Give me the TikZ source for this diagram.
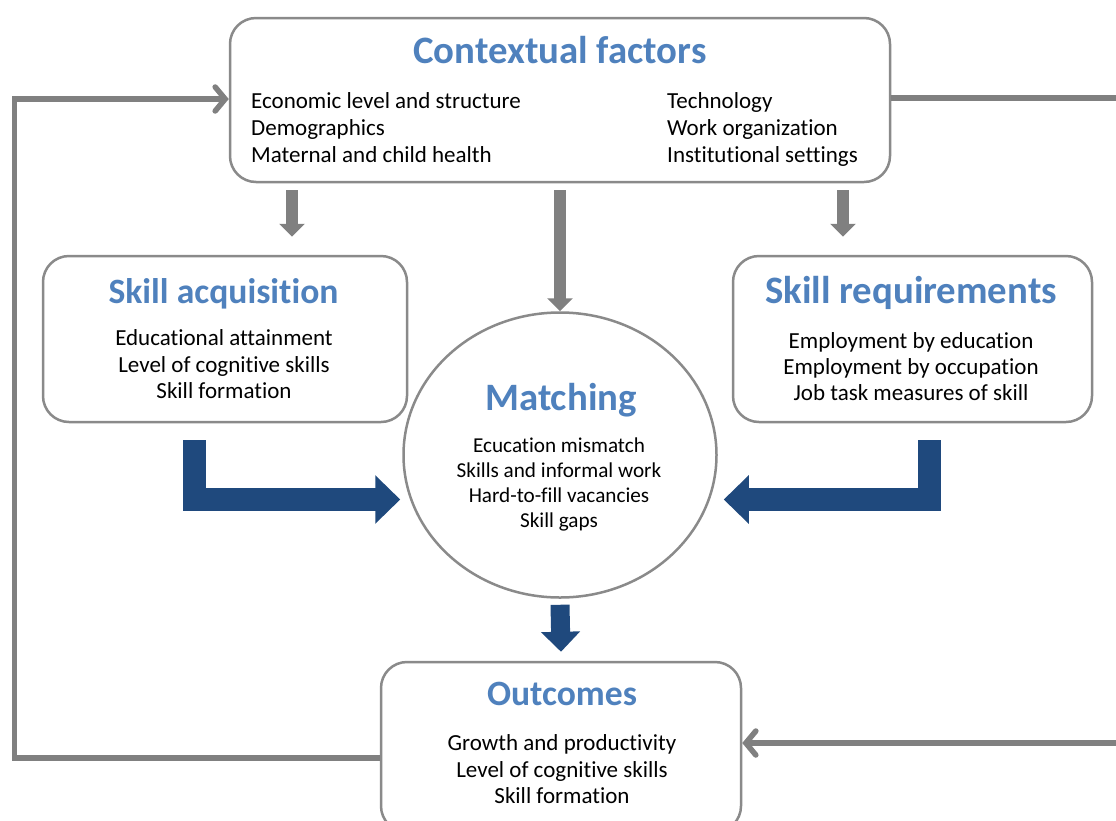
\documentclass[tikz,border=0pt]{standalone}
\usepackage{fontspec}
\setmainfont{Carlito}[Ligatures={NoCommon}]
\usetikzlibrary{arrows.meta,shapes.geometric,calc}
\definecolor{boxgray}{HTML}{8A8A8A}
\definecolor{argray}{HTML}{808080}
\definecolor{tblue}{HTML}{4F81BD}
\definecolor{dblue}{HTML}{1F497D}
\begin{document}
\begin{tikzpicture}[x=1pt,y=-1pt,
 box/.style={draw=boxgray, line width=2.5pt, rounded corners=26pt, fill=white, inner sep=0pt},
 ttl/.style={anchor=base, text=tblue, font=\fontsize{38.8}{44}\selectfont\bfseries, inner sep=0pt},
 ttls/.style={anchor=base, text=tblue, font=\fontsize{35.6}{40}\selectfont\bfseries, inner sep=0pt},
 txt/.style={anchor=base, font=\fontsize{23}{27}\selectfont, inner sep=0pt},
 ctxt/.style={anchor=base, font=\fontsize{21.2}{25}\selectfont, inner sep=0pt},
 garrow/.style={draw=argray, line width=12pt, -{Triangle[width=25pt,length=13pt]}},
 fline/.style={draw=argray, line width=5.5pt},
 barb/.style={-{Straight Barb[length=10pt,width=24pt,line cap=round]}},
 barrow/.style={draw=dblue, line width=23pt, line join=miter, -{Triangle[width=47pt,length=25pt]}},
]
\useasboundingbox (0,0) rectangle (1116,820);

% boxes
\node[box, minimum width=660pt, minimum height=164pt] (ctx) at (560,100) {};
\node[box, minimum width=364pt, minimum height=166pt] (acq) at (225,339) {};
\node[box, minimum width=359pt, minimum height=166pt] (req) at (912.5,339) {};
\node[draw=boxgray, line width=2.5pt, ellipse, fill=white, minimum width=313pt, minimum height=285pt, inner sep=0pt] (match) at (560,455) {};
\node[box, minimum width=360pt, minimum height=170pt] (out) at (561,747) {};

% texts: contextual
\node[ttl] (ctxT) at (560,63) {Contextual factors};
\node[txt, anchor=base west] (c1) at (251,108) {Economic level and structure};
\node[txt, anchor=base west] (c2) at (251,135) {Demographics};
\node[txt, anchor=base west] (c3) at (251,162) {Maternal and child health};
\node[txt, anchor=base west] (c4) at (667,108) {Technology};
\node[txt, anchor=base west] (c5) at (667,135) {Work organization};
\node[txt, anchor=base west] (c6) at (667,162) {Institutional settings};

% skill acquisition
\node[ttls] (acqT) at (223.5,303) {Skill acquisition};
\node[txt] (a1) at (224,345) {Educational attainment};
\node[txt] (a2) at (224,372) {Level of cognitive skills};
\node[txt] (a3) at (224,398) {Skill formation};

% skill requirements
\node[ttl] (reqT) at (911,303) {Skill requirements};
\node[txt] (r1) at (911,348) {Employment by education};
\node[txt] (r2) at (911,374) {Employment by occupation};
\node[txt] (r3) at (911,400) {Job task measures of skill};

% matching
\node[ttl] (mT) at (561,410) {Matching};
\node[ctxt] (m1) at (559,452) {Ecucation mismatch};
\node[ctxt] (m2) at (559,477) {Skills and informal work};
\node[ctxt] (m3) at (559,502) {Hard-to-fill vacancies};
\node[ctxt] (m4) at (559,527) {Skill gaps};

% outcomes
\node[ttls] (oT) at (562,705) {Outcomes};
\node[txt] (o1) at (562,750) {Growth and productivity};
\node[txt] (o2) at (562,777) {Level of cognitive skills};
\node[txt] (o3) at (562,803) {Skill formation};

% gray arrows
\draw[garrow] ([xshift=-268pt,yshift=-7pt]ctx.south) -- ([xshift=67pt,yshift=18pt]acq.north);
\draw[garrow] ([xshift=283pt,yshift=-7pt]ctx.south) -- ([xshift=-69.5pt,yshift=18pt]req.north);
\draw[garrow] ([yshift=-7pt]ctx.south) -- (match.north);

% feedback lines
\coordinate (lc) at (14.5,99);
\coordinate (rc1) at (1125,98);
\coordinate (rc2) at (1125,743);
\draw[fline, barb] ([yshift=-11pt]out.west) -| (lc) -- (lc -| ctx.west);
\draw[fline] ([yshift=2pt]ctx.east) -- (rc1);
\draw[fline, barb] (rc2) -- ([yshift=4pt]out.east);

% blue arrows
\coordinate (bl) at (194.5,440);
\coordinate (br) at (929,440);
\draw[barrow] (bl) |- ([xshift=-2pt,yshift=-44.5pt]match.west);
\draw[barrow] (br) |- ([xshift=6pt,yshift=-44.5pt]match.east);
\draw[draw=dblue, line width=19pt, -{Triangle[width=38pt,length=20pt]}] ([yshift=-6pt]match.south) -- ([yshift=9pt]out.north);
\end{tikzpicture}
\end{document}
